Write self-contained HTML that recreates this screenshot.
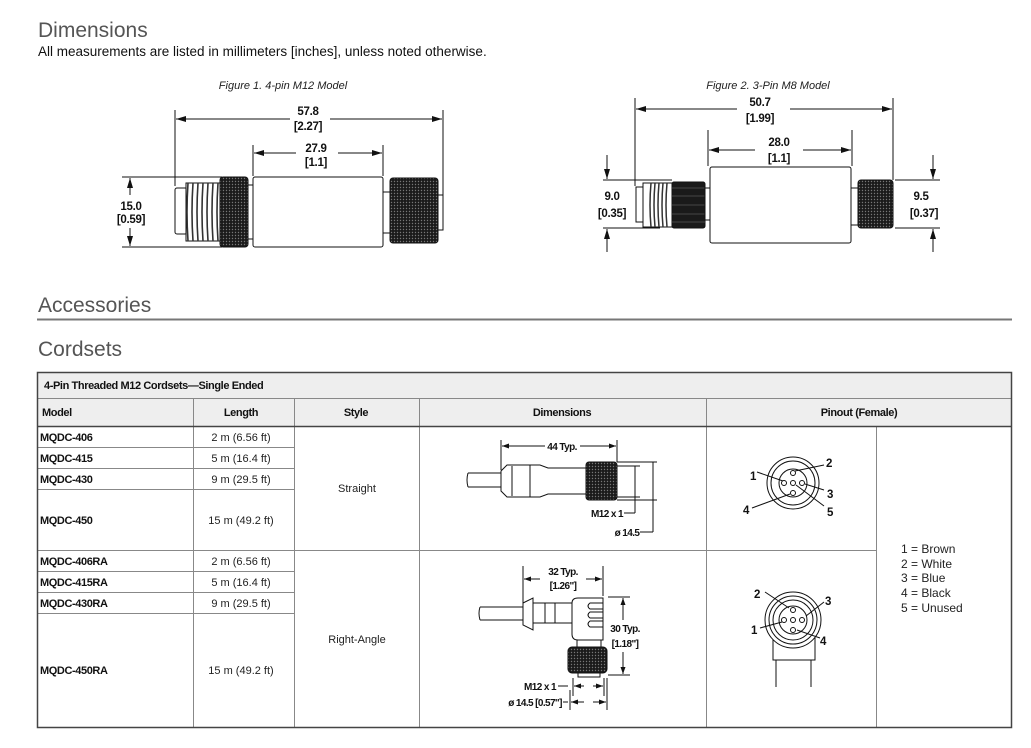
<!DOCTYPE html>
<html><head><meta charset="utf-8"><style>
html,body{margin:0;padding:0;background:#fff;width:1031px;height:748px;overflow:hidden}
svg{display:block}
text{font-family:"Liberation Sans",sans-serif}
.h{font-size:21px;fill:#555}
.b{font-weight:bold;font-size:11px;fill:#111;letter-spacing:-0.4px}
.n{font-size:11px;fill:#222}
.d{font-weight:bold;font-size:11.5px;fill:#111;letter-spacing:-0.3px}
.s{font-weight:bold;font-size:10px;fill:#111;letter-spacing:-0.6px}
.ln{stroke:#111;stroke-width:1;fill:none}
.g{stroke:#888;stroke-width:1}
</style></head><body>
<svg width="1031" height="748" viewBox="0 0 1031 748">
<defs>
<pattern id="kn" width="3" height="3" patternUnits="userSpaceOnUse"><rect width="3" height="3" fill="#1a1a1a"/><circle cx="1.5" cy="1.5" r="0.7" fill="#777"/></pattern>
<marker id="ar" markerWidth="10" markerHeight="6" refX="10" refY="3" orient="auto"><path d="M0,0 L10,3 L0,6z" fill="#111"/></marker>
<marker id="sa" markerWidth="7" markerHeight="5" refX="7" refY="2.5" orient="auto"><path d="M0,0 L7,2.5 L0,5z" fill="#111"/></marker>
</defs>
<text x="38" y="37" class="h">Dimensions</text>
<text x="38" y="56" style="font-size:13.5px;fill:#111">All measurements are listed in millimeters [inches], unless noted otherwise.</text>

<!-- Figure 1 -->
<text x="283" y="89" text-anchor="middle" style="font-size:11px;font-style:italic;fill:#222">Figure 1. 4-pin M12 Model</text>
<g class="ln">
<line x1="175" y1="110" x2="175" y2="186"/><line x1="443" y1="110" x2="443" y2="195"/>
<line x1="290" y1="119" x2="176" y2="119" marker-end="url(#ar)"/>
<line x1="330" y1="119" x2="442" y2="119" marker-end="url(#ar)"/>
<line x1="253" y1="145" x2="253" y2="176"/><line x1="383" y1="145" x2="383" y2="176"/>
<line x1="296" y1="153" x2="254" y2="153" marker-end="url(#ar)"/>
<line x1="338" y1="153" x2="382" y2="153" marker-end="url(#ar)"/>
<line x1="122" y1="177" x2="222" y2="177"/><line x1="122" y1="247" x2="222" y2="247"/>
<line x1="130" y1="195" x2="130" y2="178" marker-end="url(#ar)"/>
<line x1="130" y1="228" x2="130" y2="246" marker-end="url(#ar)"/>
</g>
<text x="308" y="115" text-anchor="middle" class="d">57.8</text><text x="308" y="130" text-anchor="middle" class="d">[2.27]</text>
<text x="316" y="152" text-anchor="middle" class="d">27.9</text><text x="316" y="166" text-anchor="middle" class="d">[1.1]</text>
<text x="131" y="210" text-anchor="middle" class="d">15.0</text><text x="131" y="223" text-anchor="middle" class="d">[0.59]</text>
<rect x="175" y="188" width="12" height="46" rx="2" fill="#fff" stroke="#111"/>
<rect x="186" y="183" width="35" height="58" fill="#fff" stroke="#111"/>
<g stroke="#333" stroke-width="1.6" fill="none"><path d="M188,183 Q186,212 188,241"/><path d="M193,183 Q191,212 193,241"/><path d="M198,183 Q196,212 198,241"/><path d="M203,183 Q201,212 203,241"/><path d="M208,183 Q206,212 208,241"/><path d="M213,183 Q211,212 213,241"/><path d="M218,183 Q216,212 218,241"/></g>
<rect x="220" y="177" width="28" height="70" rx="3" fill="url(#kn)" stroke="#111"/>
<rect x="248" y="185" width="5" height="54" fill="#fff" stroke="#111"/>
<rect x="253" y="177" width="130" height="70" rx="2" fill="#fff" stroke="#111"/>
<rect x="383" y="192" width="8" height="41" fill="#fff" stroke="#111"/>
<rect x="390" y="178" width="48" height="65" rx="3" fill="url(#kn)" stroke="#111"/>
<rect x="438" y="195" width="5" height="35" fill="#fff" stroke="#111"/>

<!-- Figure 2 -->
<text x="768" y="89" text-anchor="middle" style="font-size:11px;font-style:italic;fill:#222">Figure 2. 3-Pin M8 Model</text>
<g class="ln">
<line x1="635" y1="98" x2="635" y2="186"/><line x1="893" y1="98" x2="893" y2="180"/>
<line x1="737" y1="109" x2="636" y2="109" marker-end="url(#ar)"/>
<line x1="790" y1="109" x2="892" y2="109" marker-end="url(#ar)"/>
<line x1="708" y1="130" x2="708" y2="166"/><line x1="852" y1="130" x2="852" y2="166"/>
<line x1="755" y1="150" x2="709" y2="150" marker-end="url(#ar)"/>
<line x1="803" y1="150" x2="851" y2="150" marker-end="url(#ar)"/>
<line x1="603" y1="180" x2="672" y2="180"/><line x1="603" y1="228" x2="660" y2="228"/>
<line x1="607" y1="155" x2="607" y2="179" marker-end="url(#ar)"/>
<line x1="607" y1="252" x2="607" y2="229" marker-end="url(#ar)"/>
<line x1="895" y1="180" x2="940" y2="180"/><line x1="895" y1="228" x2="940" y2="228"/>
<line x1="933" y1="155" x2="933" y2="179" marker-end="url(#ar)"/>
<line x1="933" y1="252" x2="933" y2="229" marker-end="url(#ar)"/>
</g>
<text x="760" y="106" text-anchor="middle" class="d">50.7</text><text x="760" y="122" text-anchor="middle" class="d">[1.99]</text>
<text x="779" y="146" text-anchor="middle" class="d">28.0</text><text x="779" y="162" text-anchor="middle" class="d">[1.1]</text>
<text x="612" y="200" text-anchor="middle" class="d">9.0</text><text x="612" y="217" text-anchor="middle" class="d">[0.35]</text>
<text x="921" y="200" text-anchor="middle" class="d">9.5</text><text x="924" y="217" text-anchor="middle" class="d">[0.37]</text>
<rect x="636" y="187" width="7" height="35" fill="#fff" stroke="#111"/>
<rect x="643" y="183" width="30" height="44" fill="#fff" stroke="#111"/>
<g stroke="#333" stroke-width="1.5" fill="none"><path d="M651,183 Q649,205 651,227"/><path d="M655,183 Q653,205 655,227"/><path d="M659,183 Q657,205 659,227"/><path d="M663,183 Q661,205 663,227"/><path d="M667,183 Q665,205 667,227"/></g>
<rect x="672" y="182" width="33" height="46" rx="2" fill="#1a1a1a" stroke="#111"/>
<g stroke="#555" stroke-width="0.7"><line x1="672" y1="188" x2="705" y2="188"/><line x1="672" y1="196" x2="705" y2="196"/><line x1="672" y1="205" x2="705" y2="205"/><line x1="672" y1="214" x2="705" y2="214"/><line x1="672" y1="222" x2="705" y2="222"/></g>
<rect x="705" y="188" width="5" height="32" fill="#fff" stroke="#111"/>
<rect x="710" y="167" width="141" height="76" rx="2" fill="#fff" stroke="#111"/>
<rect x="851" y="188" width="7" height="37" fill="#fff" stroke="#111"/>
<rect x="858" y="180" width="35" height="48" rx="3" fill="url(#kn)" stroke="#111"/>

<!-- headings -->
<text x="38" y="312" class="h">Accessories</text>
<line x1="37" y1="319.5" x2="1012" y2="319.5" stroke="#777" stroke-width="2"/>
<text x="38" y="356" class="h">Cordsets</text>

<!-- table -->
<rect x="37" y="372" width="975" height="54" fill="#eeeeee"/>
<g class="g">
<line x1="37" y1="398.5" x2="1012" y2="398.5"/>
<line x1="37" y1="447.5" x2="294" y2="447.5"/><line x1="37" y1="468.5" x2="294" y2="468.5"/><line x1="37" y1="489.5" x2="294" y2="489.5"/>
<line x1="37" y1="550.5" x2="876" y2="550.5"/>
<line x1="37" y1="571.5" x2="294" y2="571.5"/><line x1="37" y1="592.5" x2="294" y2="592.5"/><line x1="37" y1="613.5" x2="294" y2="613.5"/>
<line x1="193.5" y1="398" x2="193.5" y2="728"/><line x1="294.5" y1="398" x2="294.5" y2="728"/>
<line x1="419.5" y1="398" x2="419.5" y2="728"/><line x1="706.5" y1="398" x2="706.5" y2="728"/>
<line x1="876.5" y1="426" x2="876.5" y2="728"/>
</g>
<line x1="37" y1="426.5" x2="1012" y2="426.5" stroke="#444" stroke-width="1.5"/>
<rect x="37.5" y="372.5" width="974" height="355" fill="none" stroke="#444" stroke-width="1.5"/>
<text x="44" y="389" class="b">4-Pin Threaded M12 Cordsets—Single Ended</text>
<text x="42" y="416" class="b">Model</text>
<text x="241" y="416" text-anchor="middle" class="b">Length</text>
<text x="356" y="416" text-anchor="middle" class="b">Style</text>
<text x="562" y="416" text-anchor="middle" class="b">Dimensions</text>
<text x="859" y="416" text-anchor="middle" class="b">Pinout (Female)</text>
<text x="40" y="441" class="b">MQDC-406</text><text x="241" y="441" text-anchor="middle" class="n">2 m (6.56 ft)</text>
<text x="40" y="462" class="b">MQDC-415</text><text x="241" y="462" text-anchor="middle" class="n">5 m (16.4 ft)</text>
<text x="40" y="483" class="b">MQDC-430</text><text x="241" y="483" text-anchor="middle" class="n">9 m (29.5 ft)</text>
<text x="40" y="524" class="b">MQDC-450</text><text x="241" y="524" text-anchor="middle" class="n">15 m (49.2 ft)</text>
<text x="357" y="492" text-anchor="middle" class="n">Straight</text>
<text x="40" y="565" class="b">MQDC-406RA</text><text x="241" y="565" text-anchor="middle" class="n">2 m (6.56 ft)</text>
<text x="40" y="586" class="b">MQDC-415RA</text><text x="241" y="586" text-anchor="middle" class="n">5 m (16.4 ft)</text>
<text x="40" y="607" class="b">MQDC-430RA</text><text x="241" y="607" text-anchor="middle" class="n">9 m (29.5 ft)</text>
<text x="40" y="674" class="b">MQDC-450RA</text><text x="241" y="674" text-anchor="middle" class="n">15 m (49.2 ft)</text>
<text x="357" y="643" text-anchor="middle" class="n">Right-Angle</text>

<!-- straight drawing -->
<g class="ln">
<line x1="501" y1="440" x2="501" y2="470"/><line x1="617" y1="440" x2="617" y2="462"/>
<line x1="545" y1="446" x2="502" y2="446" marker-end="url(#sa)"/>
<line x1="580" y1="446" x2="616" y2="446" marker-end="url(#sa)"/>
<path d="M468,473 H501 M468,487 H501 M468,473 Q466,480 468,487"/>
<path d="M501,471 L507,465 H540 L548,468 H586 V494 H548 L540,497 H507 L501,491 Z" fill="#fff"/>
<line x1="530" y1="465" x2="530" y2="497"/><line x1="512" y1="466" x2="512" y2="496"/>
<line x1="617" y1="466" x2="640" y2="466"/><line x1="617" y1="497" x2="640" y2="497"/>
<line x1="617" y1="462" x2="657" y2="462"/><line x1="617" y1="500" x2="657" y2="500"/>
<line x1="635" y1="466" x2="635" y2="513"/><line x1="653" y1="462" x2="653" y2="532"/>
<line x1="624" y1="513" x2="635" y2="513"/><line x1="640" y1="532" x2="653" y2="532"/>
</g>
<rect x="586" y="462" width="31" height="38" rx="3" fill="url(#kn)" stroke="#111"/>
<text x="562" y="450" text-anchor="middle" class="s">44 Typ.</text>
<text x="607" y="517" text-anchor="middle" class="s">M12 x 1</text>
<text x="627" y="536" text-anchor="middle" class="s">ø 14.5</text>

<!-- straight pinout -->
<g class="ln">
<circle cx="793" cy="483" r="26"/><circle cx="793" cy="483" r="22"/><circle cx="793" cy="483" r="14"/>
<circle cx="793" cy="473" r="2.5"/><circle cx="784" cy="483" r="2.5"/><circle cx="793" cy="483" r="2.5"/><circle cx="802" cy="483" r="2.5"/><circle cx="793" cy="493" r="2.5"/>
<line x1="757" y1="472" x2="783" y2="481"/><line x1="824" y1="465" x2="795" y2="471"/>
<line x1="824" y1="490" x2="805" y2="484"/><line x1="752" y1="508" x2="790" y2="494"/><line x1="824" y1="506" x2="796" y2="485"/>
</g>
<text x="750" y="480" class="d">1</text><text x="826" y="467" class="d">2</text><text x="827" y="498" class="d">3</text><text x="743" y="514" class="d">4</text><text x="827" y="516" class="d">5</text>

<!-- RA drawing -->
<g class="ln">
<line x1="523" y1="566" x2="523" y2="603"/><line x1="603" y1="566" x2="603" y2="596"/>
<line x1="540" y1="579" x2="524" y2="579" marker-end="url(#sa)"/><line x1="586" y1="579" x2="602" y2="579" marker-end="url(#sa)"/>
<path d="M480,607 H523 M480,620 H523 M480,607 Q478,613 480,620"/>
<path d="M523,603 L533,598 V630 L523,625 Z" fill="#fff"/>
<path d="M533,603 H572 V623 H533 Z" fill="#fff"/>
<line x1="545" y1="603" x2="545" y2="623"/><line x1="555" y1="603" x2="555" y2="623"/>
<path d="M572,603 Q572,598 578,598 H603 V640 H578 Q572,640 572,634 Z" fill="#fff"/>
<path d="M603,603 H590 Q586,606 590,609 H603 M603,612 H590 Q586,615 590,618 H603 M603,621 H590 Q586,624 590,627 H603"/>
<rect x="577" y="640" width="24" height="8" fill="#fff"/>
<line x1="608" y1="597" x2="630" y2="597"/><line x1="608" y1="675" x2="630" y2="675"/>
<line x1="623" y1="620" x2="623" y2="598" marker-end="url(#sa)"/><line x1="623" y1="652" x2="623" y2="674" marker-end="url(#sa)"/>
<rect x="578" y="673" width="22" height="4" fill="#fff"/>
<line x1="573" y1="678" x2="573" y2="696"/><line x1="604" y1="678" x2="604" y2="696"/>
<line x1="570" y1="690" x2="570" y2="710"/><line x1="607" y1="678" x2="607" y2="710"/>
<line x1="558" y1="686" x2="568" y2="686"/><line x1="584" y1="686" x2="574" y2="686" marker-end="url(#sa)"/><line x1="593" y1="686" x2="603" y2="686" marker-end="url(#sa)"/>
<line x1="563" y1="702" x2="568" y2="702"/><line x1="584" y1="702" x2="571" y2="702" marker-end="url(#sa)"/><line x1="593" y1="702" x2="606" y2="702" marker-end="url(#sa)"/>
</g>
<rect x="568" y="647" width="39" height="26" rx="4" fill="url(#kn)" stroke="#111"/>
<text x="563" y="575" text-anchor="middle" class="s">32 Typ.</text><text x="563" y="589" text-anchor="middle" class="s">[1.26"]</text>
<rect x="609" y="621" width="30" height="28" fill="#fff"/>
<text x="625" y="632" text-anchor="middle" class="s">30 Typ.</text><text x="625" y="647" text-anchor="middle" class="s">[1.18"]</text>
<text x="540" y="690" text-anchor="middle" class="s">M12 x 1</text>
<text x="535" y="706" text-anchor="middle" class="s">ø 14.5 [0.57"]</text>

<!-- RA pinout -->
<g class="ln">
<path d="M773,635 V660 H815 V635" fill="#fff"/>
<path d="M776,660 V687 M811,660 V687"/>
<circle cx="793" cy="620" r="28" fill="#fff"/><circle cx="793" cy="620" r="24"/><circle cx="793" cy="620" r="20"/><circle cx="793" cy="620" r="14"/>
<circle cx="793" cy="610" r="2.5"/><circle cx="784" cy="620" r="2.5"/><circle cx="793" cy="620" r="2.5"/><circle cx="802" cy="620" r="2.5"/><circle cx="793" cy="630" r="2.5"/>
<line x1="765" y1="592" x2="789" y2="608"/><line x1="824" y1="602" x2="806" y2="616"/>
<line x1="760" y1="628" x2="782" y2="622"/><line x1="820" y1="638" x2="797" y2="630"/>
</g>
<text x="754" y="598" class="d">2</text><text x="825" y="605" class="d">3</text><text x="751" y="634" class="d">1</text><text x="820" y="645" class="d">4</text>

<g style="font-size:12px;fill:#222">
<text x="901" y="553">1 = Brown</text><text x="901" y="568">2 = White</text><text x="901" y="582">3 = Blue</text><text x="901" y="597">4 = Black</text><text x="901" y="612">5 = Unused</text>
</g>
</svg>
</body></html>
